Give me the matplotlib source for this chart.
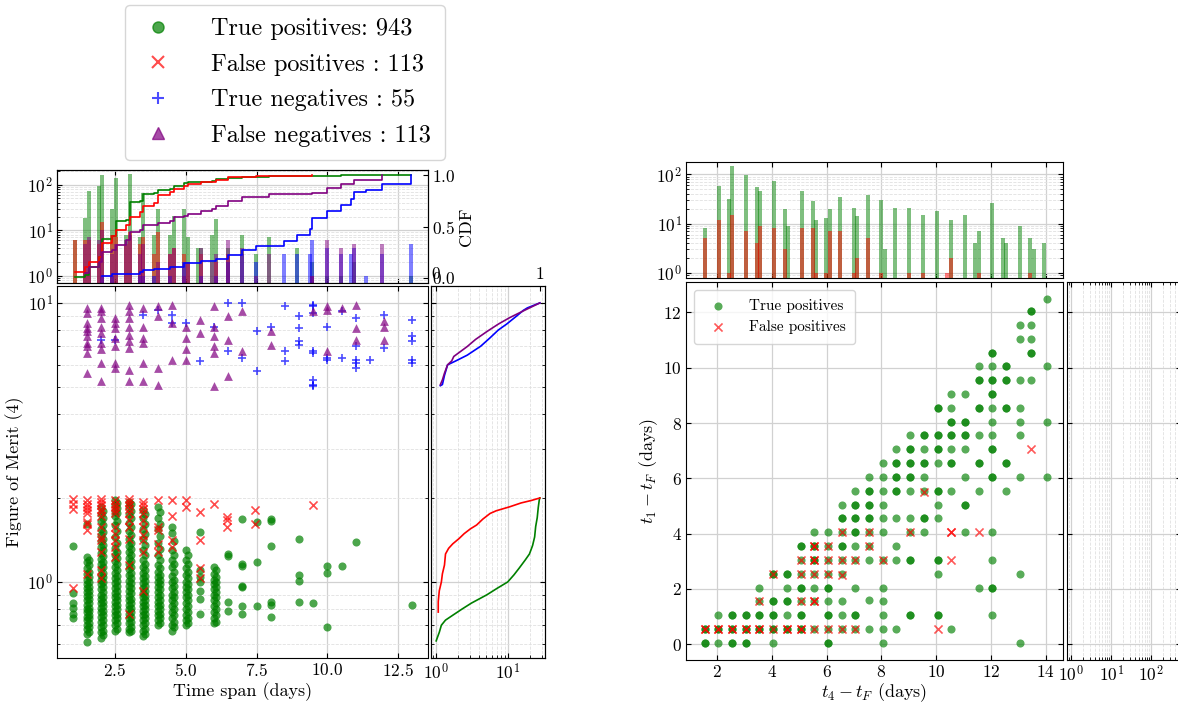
import numpy as np
import matplotlib.pyplot as plt
from matplotlib.ticker import NullFormatter
from matplotlib.lines import Line2D

plt.rcParams['font.family'] = 'cmr10'
plt.rcParams['mathtext.fontset'] = 'cm'
plt.rcParams['axes.formatter.use_mathtext'] = True
plt.rcParams['font.size'] = 12

# ---- time span histogram (bin centre in days, count) ----
tp_span_bins = [1.09, 1.44, 1.57, 1.92, 2.05, 2.40, 2.53, 2.89, 3.02, 3.37, 3.50, 3.88, 4.01,
                4.45, 4.58, 4.95, 5.08, 5.42, 5.55, 5.92, 6.05, 6.49, 6.99, 7.46, 7.95, 8.92,
                9.45, 9.98, 10.48, 10.95, 12.95]
tp_span_counts = [6, 19, 72, 92, 163, 29, 139, 8, 170, 7, 66, 8, 30,
                  8, 21, 30, 7, 4, 4, 8, 18, 4, 8, 3, 7, 4,
                  2, 1, 1, 2, 1]
fp_span_bins = [1.09, 1.44, 1.57, 1.92, 2.05, 2.40, 2.53, 2.89, 3.02, 3.37, 3.50, 3.88, 4.01,
                4.45, 4.58, 4.95, 5.08, 5.55, 6.05, 6.49, 7.46, 9.45]
fp_span_counts = [6, 6, 6, 5, 15, 8, 7, 5, 9, 5, 7, 3, 9,
                  3, 4, 3, 2, 3, 2, 3, 1, 1]
tn_span_bins = [2.05, 2.40, 3.37, 3.50, 3.88, 4.45, 4.95, 5.55, 6.05, 6.49, 6.99, 7.46,
                8.47, 8.92, 9.37, 9.46, 9.98, 10.48, 10.82, 10.95, 11.35, 11.92, 12.95]
tn_span_counts = [1, 1, 1, 1, 1, 1, 2, 1, 1, 2, 3, 2,
                  3, 3, 3, 6, 4, 3, 3, 4, 1, 3, 5]
fn_span_bins = [1.44, 1.57, 1.92, 2.05, 2.40, 2.53, 2.89, 3.02, 3.37, 3.50, 4.01, 4.45, 4.58,
                4.95, 5.08, 5.55, 5.92, 6.05, 6.49, 6.99, 7.95, 9.45, 9.98, 10.48, 10.95, 11.92]
fn_span_counts = [5, 7, 6, 10, 3, 5, 6, 8, 3, 5, 2, 3, 4,
                  1, 2, 4, 2, 3, 6, 4, 3, 1, 6, 4, 5, 5]

# ---- figure of merit vs time span, one list of values per time-span column ----
tp_cols = [1.0, 1.5, 2.0, 2.5, 3.0, 3.5, 4.0, 4.5, 5.0, 5.5, 6.0, 6.5, 7.0, 7.5, 8.0,
           9.0, 9.5, 10.0, 10.5, 11.0, 13.0,
           1.57, 2.07, 2.57, 3.07, 3.57, 4.07, 4.57, 5.07, 6.07]
tp_fom = [
    [1.35, 0.91, 0.84, 0.81, 0.77, 0.74],
    [1.62, 1.23, 1.18, 1.12, 1.07, 1.02, 0.98, 0.95, 0.92, 0.89, 0.86, 0.83, 0.80, 0.78,
     0.75, 0.73, 0.70, 0.68, 0.65, 0.61],
    [1.86, 1.75, 1.65, 1.55, 1.47, 1.40, 1.33, 1.27, 1.21, 1.16, 1.11, 1.06, 1.02, 0.98,
     0.94, 0.90, 0.87, 0.84, 0.81, 0.78, 0.75, 0.72, 0.69, 0.66, 0.63],
    [1.96, 1.88, 1.80, 1.72, 1.60, 1.45, 1.32, 1.25, 1.19, 1.13, 1.08, 1.03, 0.99, 0.95,
     0.91, 0.88, 0.85, 0.82, 0.79, 0.76, 0.73, 0.70, 0.67],
    [1.94, 1.85, 1.75, 1.63, 1.52, 1.42, 1.35, 1.28, 1.22, 1.16, 1.11, 1.06, 1.01, 0.97,
     0.93, 0.89, 0.86, 0.83, 0.80, 0.77, 0.74, 0.71, 0.68, 0.66],
    [1.81, 1.70, 1.55, 1.42, 1.30, 1.20, 1.13, 1.08, 1.03, 0.99, 0.95, 0.91, 0.88, 0.85,
     0.82, 0.79, 0.76, 0.73, 0.70, 0.67, 0.64],
    [1.86, 1.70, 1.55, 1.38, 1.25, 1.15, 1.09, 1.04, 1.00, 0.96, 0.92, 0.88, 0.85, 0.82,
     0.79, 0.76, 0.73, 0.70],
    [1.58, 1.50, 1.30, 1.20, 1.13, 1.05, 1.00, 0.95, 0.90, 0.86, 0.82, 0.78, 0.74, 0.70, 0.67],
    [1.30, 1.20, 1.12, 1.06, 1.00, 0.96, 0.92, 0.88, 0.84, 0.80, 0.76, 0.73, 0.70],
    [1.51, 1.10, 1.04, 1.00, 0.93, 0.87, 0.77],
    [1.13, 1.07, 1.02, 0.98, 0.94, 0.90, 0.86, 0.82, 0.78, 0.74, 0.71],
    [1.26, 1.24, 0.85, 0.79],
    [1.68, 1.16, 1.14, 0.97, 0.96, 0.82, 0.77],
    [1.64, 1.18, 0.82],
    [1.68, 1.66, 1.35, 0.85, 0.83, 0.75],
    [1.42, 1.06, 1.01, 0.85],
    [0.84],
    [1.14, 1.08, 0.69],
    [1.14],
    [1.39],
    [0.83],
    [1.20, 1.15, 1.09, 1.04, 1.00, 0.96, 0.93, 0.90, 0.87, 0.84, 0.81, 0.79, 0.76, 0.74,
     0.71, 0.69, 0.66],
    [1.80, 1.70, 1.60, 1.51, 1.43, 1.36, 1.30, 1.24, 1.18, 1.13, 1.08, 1.04, 1.00, 0.96,
     0.92, 0.88, 0.85, 0.82, 0.79, 0.76, 0.73, 0.70, 0.67, 0.645],
    [1.92, 1.84, 1.76, 1.66, 1.52, 1.38, 1.28, 1.22, 1.16, 1.10, 1.05, 1.01, 0.97, 0.93,
     0.89, 0.86, 0.83, 0.80, 0.77, 0.74, 0.71, 0.68],
    [1.90, 1.80, 1.69, 1.57, 1.47, 1.38, 1.31, 1.25, 1.19, 1.13, 1.08, 1.03, 0.99, 0.95,
     0.91, 0.87, 0.84, 0.81, 0.78, 0.75, 0.72, 0.69, 0.67],
    [1.75, 1.62, 1.48, 1.36, 1.25, 1.16, 1.10, 1.05, 1.01, 0.97, 0.93, 0.89, 0.86, 0.83,
     0.80, 0.77, 0.74, 0.71, 0.68, 0.65],
    [1.78, 1.62, 1.46, 1.31, 1.20, 1.12, 1.06, 1.02, 0.98, 0.94, 0.90, 0.86, 0.83, 0.80,
     0.77, 0.74, 0.71],
    [1.40, 1.25, 1.16, 1.09, 1.02, 0.97, 0.92, 0.88, 0.84, 0.80, 0.76, 0.72, 0.69],
    [1.25, 1.16, 1.09, 1.03, 0.98, 0.94, 0.90, 0.86, 0.82, 0.78, 0.74, 0.71],
    [1.10, 1.04, 1.00, 0.96, 0.92, 0.88, 0.84, 0.80, 0.76, 0.72],
]
fp_cols = [1.0, 1.5, 2.0, 2.5, 3.0, 3.5, 4.0, 4.5, 5.0, 5.5, 6.0, 6.45, 7.45, 9.5]
fp_fom = [
    [1.99, 1.91, 1.83, 0.95],
    [1.97, 1.91, 1.86, 1.81, 1.76, 1.64, 1.62, 1.53, 1.07],
    [1.99, 1.94, 1.88, 1.83, 1.78, 1.72, 1.58, 1.45, 1.41, 1.28, 1.10, 1.03],
    [1.97, 1.91, 1.86, 1.81, 1.76, 1.58, 1.49, 1.41, 1.34, 1.23],
    [1.99, 1.94, 1.88, 1.83, 1.76, 1.67, 1.58, 1.43, 1.15, 0.77],
    [1.94, 1.88, 1.83, 1.76, 1.67, 1.58, 1.47, 1.41, 1.28, 0.93],
    [1.97, 1.58, 1.53, 1.37, 1.28],
    [1.97, 1.72, 1.41, 1.34],
    [1.97, 1.86],
    [1.78, 1.41, 1.12, 1.03],
    [1.91],
    [1.71, 1.67, 1.58],
    [1.81, 1.61],
    [1.88],
]
tn_cols = [2.0, 2.5, 3.5, 4.0, 4.5, 5.0, 5.5, 6.0, 6.5, 7.0, 7.5, 8.0, 8.5, 9.0, 9.5,
           10.0, 10.5, 11.0, 11.5, 12.0, 13.0]
tn_fom = [
    [7.39], [7.39], [9.08], [9.47], [9.08, 8.47], [8.47], [6.17], [8.23],
    [9.98, 6.71], [9.98, 6.35], [7.91, 5.68], [8.23], [9.73, 6.71, 6.17],
    [8.95, 8.12, 7.29, 7.09],
    [9.86, 9.73, 9.21, 6.71, 6.62, 5.30, 5.09, 5.02],
    [8.23, 6.35, 6.26], [9.34, 6.35], [8.83, 6.99, 6.26, 6.09, 5.83], [6.26],
    [9.08, 6.90], [8.71, 7.59, 7.29, 6.26, 6.09],
]
fn_cols = [1.5, 2.0, 2.5, 3.0, 3.5, 4.0, 4.5, 5.0, 5.5, 6.0, 6.5, 7.0, 8.0, 9.5,
           10.0, 10.5, 11.0, 12.0]
fn_fom = [
    [9.60, 9.21, 8.47, 8.12, 7.91, 7.59, 7.18, 6.99, 6.61, 5.60],
    [9.60, 9.34, 8.83, 8.23, 7.80, 7.18, 6.81, 6.09, 5.23],
    [8.83, 8.47, 8.12, 7.49, 6.99, 6.09, 5.83],
    [9.86, 9.34, 8.83, 8.23, 7.70, 7.29, 6.90, 5.76, 5.23],
    [9.60, 8.23, 7.49, 7.18, 6.09, 5.23],
    [9.73, 8.95, 5.83, 5.09],
    [9.86, 8.47, 6.26],
    [8.23, 7.49, 6.81, 6.26],
    [8.71, 7.80],
    [9.73, 8.23, 7.59, 6.99, 6.62, 5.02],
    [8.95, 7.39, 5.45],
    [9.34, 6.71],
    [7.91, 7.09],
    [9.34],
    [9.73, 9.47, 6.71],
    [9.60],
    [9.86, 8.12, 7.39],
    [8.59, 8.23, 7.39],
]

# ---- cumulative distribution of the figure of merit per class ----
tp_cdf_fom = [0.615, 0.63, 0.66, 0.70, 0.73, 0.76, 0.80, 0.84, 0.90, 0.95, 1.00, 1.06,
              1.12, 1.20, 1.26, 1.35, 1.45, 1.58, 1.70, 1.85, 1.97, 2.0]
tp_cdf_frac = [0.0, 0.01, 0.03, 0.05, 0.09, 0.16, 0.25, 0.34, 0.49, 0.59, 0.69, 0.75,
               0.80, 0.86, 0.90, 0.93, 0.95, 0.96, 0.975, 0.985, 0.995, 1.0]
fp_cdf_fom = [0.78, 0.85, 0.93, 1.0, 1.07, 1.15, 1.26, 1.32, 1.37, 1.43, 1.49, 1.55,
              1.60, 1.68, 1.76, 1.80, 1.86, 1.92, 1.96, 2.0]
fp_cdf_frac = [0.02, 0.02, 0.03, 0.05, 0.06, 0.08, 0.09, 0.12, 0.16, 0.22, 0.27, 0.33,
               0.39, 0.45, 0.52, 0.58, 0.71, 0.82, 0.92, 1.0]
tn_cdf_fom = [5.05, 5.1, 5.5, 6.0, 6.1, 6.2, 6.5, 7.0, 7.5, 8.0, 8.4, 9.0, 9.4, 9.6, 10.0]
tn_cdf_frac = [0.04, 0.06, 0.08, 0.11, 0.15, 0.19, 0.30, 0.43, 0.52, 0.60, 0.68, 0.78,
               0.84, 0.88, 1.0]
fn_cdf_fom = [5.09, 5.3, 5.6, 6.0, 6.2, 6.43, 6.98, 7.4, 7.9, 8.4, 8.86, 9.4, 10.0]
fn_cdf_frac = [0.04, 0.06, 0.08, 0.11, 0.15, 0.17, 0.30, 0.38, 0.49, 0.60, 0.71, 0.85, 1.0]

# ---- t4 - tF histogram ----
tp_t4_bins = [1.55, 2.07, 2.44, 2.56, 3.07, 3.46, 3.58, 4.09, 4.48, 4.59, 5.10, 5.49,
              5.61, 5.99, 6.11, 6.48, 6.99, 7.11, 7.50, 8.00, 8.12, 8.51, 9.01, 9.52,
              10.02, 10.53, 11.04, 11.43, 11.55, 12.05, 12.43, 12.56, 13.05, 13.44,
              13.56, 13.94]
tp_t4_counts = [8, 58, 32, 145, 98, 55, 45, 75, 20, 9, 45, 29,
                12, 13, 20, 35, 21, 14, 39, 30, 3, 21, 21, 15,
                18, 12, 15, 4, 7, 26, 5, 4, 9, 5, 3, 4]
fp_t4_bins = [1.55, 2.07, 2.44, 2.56, 3.07, 3.46, 3.58, 4.09, 4.48, 5.10, 5.49, 5.61,
              5.99, 6.11, 6.48, 6.99, 7.11, 7.50, 8.00, 9.01, 9.52, 10.41, 10.53, 11.55,
              13.44]
fp_t4_counts = [5, 12, 1, 15, 7, 4, 9, 8, 3, 8, 8, 1,
                1, 7, 7, 1, 2, 5, 1, 1, 1, 1, 2, 1, 1]

# ---- t1 - tF vs t4 - tF, one list of values per t4 - tF column ----
tp_t4_cols = [1.55, 2.05, 2.55, 3.05, 3.55, 4.05, 4.55, 5.05, 5.55, 6.05, 6.55, 7.05,
              7.55, 8.05, 8.55, 9.05, 9.55, 10.05, 10.55, 11.05, 11.55, 12.05, 12.55,
              13.05, 13.45, 14.05]
tp_t1 = [
    [0.05, 0.05, 0.55, 0.55],
    [0.05, 0.55, 0.55, 1.05],
    [0.05, 0.05, 0.55, 0.55, 1.05, 1.05],
    [0.05, 0.05, 0.55, 0.55, 1.05, 1.05],
    [0.55, 0.55, 1.05, 1.05, 1.55, 2.05],
    [0.05, 0.55, 0.55, 1.05, 1.05, 1.55, 1.55, 2.55, 2.55],
    [0.55, 0.55, 1.05, 1.55, 1.55, 2.05, 2.55, 2.55],
    [0.55, 0.55, 1.05, 1.05, 1.55, 2.05, 2.05, 2.55, 3.05, 3.55, 3.55],
    [0.55, 1.55, 2.05, 2.55, 3.05, 3.05, 3.55, 3.55, 4.05],
    [0.05, 0.05, 0.55, 1.05, 1.05, 1.55, 2.05, 2.05, 2.55, 3.05, 3.55, 4.05],
    [0.55, 1.05, 1.55, 2.55, 3.05, 3.55, 3.55, 4.05, 4.55, 4.55, 5.05],
    [0.55, 1.05, 1.05, 2.05, 3.05, 3.55, 4.05, 4.05, 4.55, 4.55, 5.05, 5.05, 5.55],
    [0.55, 1.60, 3.05, 3.55, 4.05, 4.55, 4.55, 5.05, 5.05, 5.55, 5.55, 6.05],
    [0.05, 0.55, 1.05, 1.55, 2.05, 3.05, 4.05, 4.55, 5.05, 5.55, 6.05, 6.55],
    [0.55, 3.05, 3.55, 4.55, 5.55, 5.55, 6.05, 6.05, 6.55, 6.55, 7.05],
    [1.05, 1.05, 3.05, 3.05, 4.05, 4.55, 5.55, 6.05, 6.05, 6.55, 6.55, 7.05, 7.05, 7.55],
    [4.05, 4.55, 4.55, 5.55, 6.05, 6.55, 6.55, 7.05, 7.55, 7.55],
    [1.05, 1.05, 2.55, 3.05, 3.05, 4.55, 5.05, 5.55, 5.55, 6.55, 7.05, 7.05, 7.55, 7.55,
     8.55, 8.55],
    [0.55, 5.55, 6.55, 6.55, 7.05, 7.55, 7.55, 8.05, 8.05, 8.55, 9.05],
    [4.05, 5.05, 5.05, 6.05, 7.05, 7.55, 7.55, 8.05, 8.05, 9.05],
    [2.05, 5.55, 6.55, 6.55, 7.55, 8.55, 8.55, 9.55, 9.55, 10.05],
    [1.05, 2.05, 2.05, 3.05, 4.05, 6.05, 6.05, 7.05, 7.05, 7.55, 8.05, 8.55, 9.05, 9.05,
     9.55, 9.55, 10.05, 10.55, 10.55],
    [5.55, 6.55, 6.55, 8.55, 8.55, 9.55, 9.55, 10.05, 10.05],
    [0.05, 2.55, 6.05, 7.55, 8.05, 8.55, 9.55, 11.05, 11.55],
    [9.55, 10.55, 10.55, 11.05, 11.55, 12.05, 12.05],
    [6.05, 8.05, 10.05, 12.50],
]
fp_t4_cols = [1.55, 2.05, 2.55, 3.05, 3.55, 4.05, 4.55, 5.05, 5.55, 6.05, 6.55, 7.05,
              7.55, 8.05, 9.05, 9.55, 10.05, 10.55, 11.55, 13.45]
fp_t1 = [
    [0.55, 0.55], [0.55, 0.55], [0.55, 0.55], [0.55, 0.55], [0.55, 0.55, 1.55],
    [0.55, 2.55], [0.55, 0.55], [0.55, 0.55, 1.55, 2.55, 3.05],
    [0.55, 1.55, 1.55, 2.55, 3.05, 3.05, 3.55, 3.55],
    [0.55, 2.55, 3.05, 3.55], [0.55, 2.50, 3.05, 4.05], [0.55, 3.05], [3.55, 4.05],
    [3.05], [4.05], [5.50], [0.55], [3.05, 4.05, 4.05], [4.05], [7.05],
]


def flatten(cols, vals):
    xs = np.concatenate([[c] * len(v) for c, v in zip(cols, vals)])
    return xs, np.concatenate(vals)


def cdf_steps(bins, counts):
    frac = np.cumsum(counts) / np.sum(counts)
    prev = np.r_[0.0, frac[:-1]]
    xs = np.repeat(bins, 2)[1:]
    ys = np.column_stack([prev, frac]).ravel()[1:]
    return xs, ys


def style(ax, right=True):
    ax.tick_params(which='both', direction='in', top=True, right=right, labelsize=12.5,
                   pad=3)
    ax.grid(which='major', color='0.82', lw=0.9)
    ax.grid(which='minor', color='0.88', lw=0.6, ls='--')
    ax.set_axisbelow(True)


W, H = 1178, 702
fig = plt.figure(figsize=(W / 100, H / 100), dpi=100)


def box(x0, y0, x1, y1):
    return [x0 / W, 1 - y1 / H, (x1 - x0) / W, (y1 - y0) / H]


# ================= left block =================
ax_hist = fig.add_axes(box(57, 170, 428, 283))
ax_main = fig.add_axes(box(57, 286, 428, 658), sharex=ax_hist)
ax_side = fig.add_axes(box(431, 286, 545, 658), sharey=ax_main)

bw = 0.14
for bins, counts, col in [(tp_span_bins, tp_span_counts, 'green'),
                          (fp_span_bins, fp_span_counts, 'red'),
                          (tn_span_bins, tn_span_counts, 'blue'),
                          (fn_span_bins, fn_span_counts, 'purple')]:
    ax_hist.bar(bins, counts, width=bw, color=col, alpha=0.5, lw=0)
ax_hist.set_yscale('log')
ax_hist.set_ylim(0.7, 210)
style(ax_hist, right=False)
ax_hist.tick_params(labelbottom=False)
ax_hist.yaxis.set_minor_formatter(NullFormatter())

ax_cdf = ax_hist.twinx()
for bins, counts, col in [(tp_span_bins, tp_span_counts, 'green'),
                          (fp_span_bins, fp_span_counts, 'red'),
                          (fn_span_bins, fn_span_counts, 'purple'),
                          (tn_span_bins, tn_span_counts, 'blue')]:
    xs, ys = cdf_steps(bins, counts)
    ax_cdf.plot(xs, ys, color=col, lw=1.2)
ax_cdf.set_ylim(-0.05, 1.05)
ax_cdf.set_yticks([0.0, 0.5, 1.0])
ax_cdf.tick_params(direction='in', labelsize=12.5, pad=3)
ax_cdf.set_ylabel('CDF', fontsize=13, labelpad=2)

x, y = flatten(tp_cols, tp_fom)
ax_main.scatter(x, y, s=34, marker='o', color='green', alpha=0.7, lw=0)
x, y = flatten(fp_cols, fp_fom)
ax_main.scatter(x, y, s=34, marker='x', color='red', alpha=0.7, lw=1.2)
x, y = flatten(tn_cols, tn_fom)
ax_main.scatter(x, y, s=40, marker='+', color='blue', alpha=0.7, lw=1.2)
x, y = flatten(fn_cols, fn_fom)
ax_main.scatter(x, y, s=40, marker='^', color='purple', alpha=0.7, lw=0)
ax_main.set_yscale('log')
ax_main.set_xlim(0.45, 13.55)
ax_main.set_ylim(0.534, 11.5)
ax_main.set_xticks([2.5, 5.0, 7.5, 10.0, 12.5])
ax_main.yaxis.set_minor_formatter(NullFormatter())
style(ax_main)
ax_main.set_xlabel('Time span (days)', fontsize=13, labelpad=2)
ax_main.set_ylabel('Figure of Merit (4)', fontsize=13, labelpad=2)

ax_side.set_xscale('log')
ax_side.set_xlim(0.85, 32.7)
ax_side.xaxis.set_minor_formatter(NullFormatter())
style(ax_side)
ax_side.tick_params(labelleft=False, top=False)
ax_side_top = ax_side.twiny()
for fom, frac, col in [(tp_cdf_fom, tp_cdf_frac, 'green'),
                       (fp_cdf_fom, fp_cdf_frac, 'red'),
                       (tn_cdf_fom, tn_cdf_frac, 'blue'),
                       (fn_cdf_fom, fn_cdf_frac, 'purple')]:
    ax_side_top.plot(frac, fom, color=col, lw=1.2)
ax_side_top.set_xlim(-0.05, 1.05)
ax_side_top.set_xticks([0, 1])
ax_side_top.set_xticklabels(['0', '1'])
ax_side_top.tick_params(direction='in', labelsize=12.5, pad=3)

handles = [
    Line2D([], [], ls='', marker='o', color='green', alpha=0.7, ms=8),
    Line2D([], [], ls='', marker='x', color='red', alpha=0.7, ms=8, mew=1.5),
    Line2D([], [], ls='', marker='+', color='blue', alpha=0.7, ms=9, mew=1.5),
    Line2D([], [], ls='', marker='^', color='purple', alpha=0.7, ms=8),
]
labels = ['True positives: 943', 'False positives : 113',
          'True negatives : 55', 'False negatives : 113']
fig.legend(handles, labels, loc='upper left', bbox_to_anchor=(125 / W, 1 - 5 / H),
           fontsize=17.5, handletextpad=1.4, borderpad=0.55, labelspacing=0.55,
           handlelength=1.6, borderaxespad=0)

# ================= right block =================
ax_rhist = fig.add_axes(box(686, 162, 1063, 278))
ax_rmain = fig.add_axes(box(686, 282, 1063, 660), sharex=ax_rhist)
ax_rside = fig.add_axes(box(1067, 282, 1181, 660), sharey=ax_rmain)

ax_rhist.bar(tp_t4_bins, tp_t4_counts, width=0.15, color='green', alpha=0.5, lw=0)
ax_rhist.bar(fp_t4_bins, fp_t4_counts, width=0.15, color='red', alpha=0.5, lw=0)
ax_rhist.set_yscale('log')
ax_rhist.set_ylim(0.79, 178)
ax_rhist.yaxis.set_minor_formatter(NullFormatter())
style(ax_rhist)
ax_rhist.tick_params(labelbottom=False)

x, y = flatten(tp_t4_cols, tp_t1)
ax_rmain.scatter(x, y, s=34, marker='o', color='green', alpha=0.65, lw=0,
                 label='True positives')
x, y = flatten(fp_t4_cols, fp_t1)
ax_rmain.scatter(x, y, s=34, marker='x', color='red', alpha=0.65, lw=1.2,
                 label='False positives')
ax_rmain.set_xlim(0.87, 14.63)
ax_rmain.set_ylim(-0.57, 13.1)
ax_rmain.set_xticks([2, 4, 6, 8, 10, 12, 14])
ax_rmain.set_yticks([0, 2, 4, 6, 8, 10, 12])
style(ax_rmain)
ax_rmain.set_xlabel(r'$t_4 - t_F$ (days)', fontsize=13, labelpad=1)
ax_rmain.set_ylabel(r'$t_1 - t_F$ (days)', fontsize=13, labelpad=2)
ax_rmain.legend(loc='upper left', fontsize=11, handletextpad=1.0, borderpad=0.6)

ax_rside.set_xscale('log')
ax_rside.set_xlim(0.78, 560)
ax_rside.xaxis.set_minor_formatter(NullFormatter())
style(ax_rside)
ax_rside.tick_params(labelleft=False)

fig.savefig('out.png', dpi=100)
